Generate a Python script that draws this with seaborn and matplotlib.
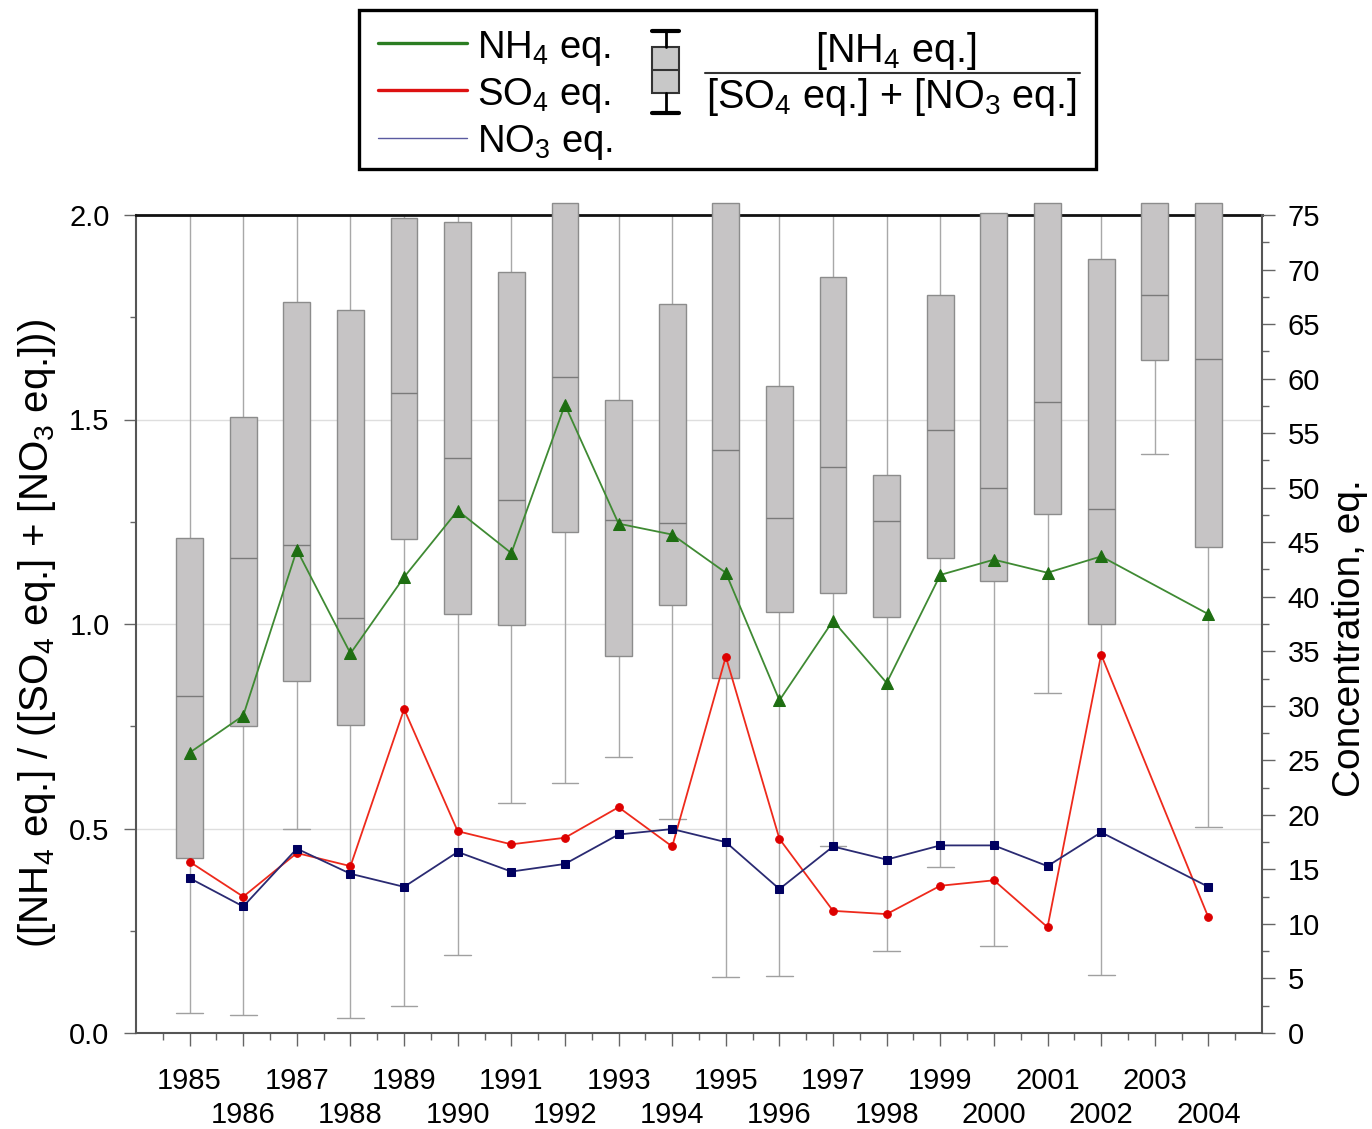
import numpy as np
import pandas as pd
import matplotlib
matplotlib.use("Agg")
import matplotlib.pyplot as plt
import seaborn as sns
from matplotlib.lines import Line2D
from matplotlib.patches import Rectangle
from matplotlib.ticker import MultipleLocator, FormatStrFormatter

# ---------------- data ----------------
years = list(range(1985, 2005))
# ratio [NH4]/([SO4]+[NO3]) box statistics (left axis)
box_low = [0.048, 0.045, 0.500, 0.037, 0.066, 0.190, 0.562, 0.611, 0.674, 0.523,
           0.138, 0.140, 0.456, 0.200, 0.407, 0.213, 0.832, 0.143, 1.416, 0.503]
box_q1 = [0.427, 0.751, 0.860, 0.754, 1.209, 1.025, 0.997, 1.225, 0.922, 1.046,
          0.867, 1.029, 1.075, 1.016, 1.162, 1.104, 1.269, 0.999, 1.645, 1.189]
box_med = [0.823, 1.161, 1.194, 1.015, 1.566, 1.406, 1.302, 1.605, 1.254, 1.246,
           1.425, 1.258, 1.383, 1.251, 1.474, 1.332, 1.544, 1.280, 1.804, 1.647]
box_q3 = [1.210, 1.505, 1.788, 1.768, 1.992, 1.982, 1.861, 2.030, 1.548, 1.782,
          2.030, 1.582, 1.848, 1.364, 1.804, 2.006, 2.030, 1.892, 2.030, 2.030]
box_high = [2.0, 2.0, 2.0, 2.0, 2.0, 2.0, 2.0, 2.030, 2.0, 2.0,
            2.030, 2.0, 2.0, 2.0, 2.0, 2.006, 2.030, 2.0, 2.030, 2.030]

# concentrations (right axis), no 2003 values
line_years = [1985, 1986, 1987, 1988, 1989, 1990, 1991, 1992, 1993, 1994,
              1995, 1996, 1997, 1998, 1999, 2000, 2001, 2002, 2004]
nh4 = [25.7, 29.1, 44.3, 34.8, 41.8, 47.9, 44.0, 57.6, 46.7, 45.7,
       42.2, 30.5, 37.8, 32.1, 42.0, 43.4, 42.2, 43.7, 38.4]
so4 = [15.7, 12.5, 16.5, 15.3, 29.7, 18.5, 17.3, 17.9, 20.7, 17.1,
       34.5, 17.8, 11.2, 10.9, 13.5, 14.0, 9.7, 34.7, 10.6]
no3 = [14.2, 11.6, 16.9, 14.6, 13.4, 16.6, 14.8, 15.5, 18.2, 18.7,
       17.5, 13.2, 17.1, 15.9, 17.2, 17.2, 15.3, 18.4, 13.4]

# ---------------- style ----------------
W, H = 1372, 1129
sns.set_style("white")
plt.rcParams["font.family"] = ["Liberation Sans", "DejaVu Sans"]
plt.rcParams["mathtext.default"] = "regular"
plt.rcParams["text.color"] = "black"
plt.rcParams["axes.labelcolor"] = "black"
plt.rcParams["xtick.labelcolor"] = "black"
plt.rcParams["ytick.labelcolor"] = "black"

fig = plt.figure(figsize=(W / 100, H / 100), dpi=100)
ax = fig.add_axes([136 / W, 1 - 1033 / H, (1262 - 136) / W, (1033 - 215) / H])

rows = []
for i, y in enumerate(years):
    for v in (box_low[i], box_q1[i], box_med[i], box_q3[i], box_high[i]):
        rows.append((y, v))
df_box = pd.DataFrame(rows, columns=["year", "ratio"])

sns.boxplot(data=df_box, x="year", y="ratio", native_scale=True, orient="x",
            width=0.5, whis=(0, 100), fliersize=0, saturation=1,
            color="#c6c4c5", linecolor="#8c8c8c", linewidth=1.0, ax=ax,
            capwidths=0.5,
            boxprops=dict(facecolor="#c6c4c5", edgecolor="#8c8c8c", linewidth=1.0, zorder=3),
            whiskerprops=dict(color="#a8a8a8", linewidth=1.0, zorder=2),
            capprops=dict(color="#a0a0a0", linewidth=1.0, zorder=2),
            medianprops=dict(color="#7a7a7a", linewidth=1.0, zorder=3.2))
for p in ax.patches:
    p.set_clip_on(False)

ax.set_xlim(1984, 2005)
ax.set_ylim(0, 2.0)
ax.set_axisbelow(True)
ax.yaxis.set_major_locator(MultipleLocator(0.5))
ax.yaxis.set_minor_locator(MultipleLocator(0.25))
ax.yaxis.set_major_formatter(FormatStrFormatter("%.1f"))
ax.grid(axis="y", which="major", color="#dedede", linewidth=1.0)
ax.grid(axis="x", visible=False)
ax.set_xticks(years)
ax.set_xticks([y + 0.5 for y in range(1984, 2005)], minor=True)
ax.set_xticklabels([str(y) for y in years])
ax.set_xlabel("")
ax.set_ylabel("")
ax.tick_params(axis="y", which="major", direction="out", length=9, width=1,
               color="#666666", labelcolor="black", labelsize=21, pad=10, left=True)
ax.tick_params(axis="y", which="minor", direction="out", length=4, width=1,
               color="#666666", left=True)
ax.tick_params(axis="x", which="major", direction="out", length=9.5, width=1,
               color="#666666", labelcolor="black", labelsize=21, pad=15, bottom=True)
ax.tick_params(axis="x", which="minor", direction="out", length=5, width=1,
               color="#666666", bottom=True)
for s in ("left", "bottom"):
    ax.spines[s].set_color("#555555")
    ax.spines[s].set_linewidth(1.5)
ax.spines["top"].set_color("#111111")
ax.spines["top"].set_linewidth(2.0)
ax.spines["right"].set_visible(False)

# stagger the year labels: even years on a second row
for tick, y in zip(ax.xaxis.get_major_ticks(), years):
    if y % 2 == 0:
        tick.set_pad(39.5)

# ---------------- lines on right axis ----------------
ax2 = ax.twinx()
df_lines = pd.DataFrame({"year": line_years, "NH4": nh4, "SO4": so4, "NO3": no3})
sns.lineplot(data=df_lines, x="year", y="NH4", ax=ax2, color="#3f8a33", linewidth=1.3,
             marker="^", markersize=8.5, markerfacecolor="#1e6e12", markeredgecolor="#1e6e12")
sns.lineplot(data=df_lines, x="year", y="SO4", ax=ax2, color="#ee2a1c", linewidth=1.3,
             marker="o", markersize=5.5, markerfacecolor="#dd0000", markeredgecolor="#dd0000")
sns.lineplot(data=df_lines, x="year", y="NO3", ax=ax2, color="#2a2a72", linewidth=1.3,
             marker="s", markersize=6, markerfacecolor="#000060", markeredgecolor="#000060")
ax2.set_ylim(0, 75)
ax2.set_xlim(1984, 2005)
ax2.set_xlabel("")
ax2.set_ylabel("")
ax2.yaxis.set_major_locator(MultipleLocator(5))
ax2.yaxis.set_minor_locator(MultipleLocator(2.5))
ax2.tick_params(axis="y", which="major", direction="out", length=9.5, width=1,
                color="#666666", labelcolor="black", labelsize=21, pad=9, right=True)
ax2.tick_params(axis="y", which="minor", direction="out", length=5, width=1,
                color="#666666", right=True)
ax2.grid(False)
for s in ("left", "bottom", "top"):
    ax2.spines[s].set_visible(False)
ax2.spines["right"].set_color("#555555")
ax2.spines["right"].set_linewidth(1.5)

# ---------------- axis titles ----------------
fig.text(37 / W, 1 - 633 / H, "([NH$_4$ eq.] / ([SO$_4$ eq.] + [NO$_3$ eq.]))",
         rotation=90, ha="center", va="center", fontsize=29, color="black")
fig.text(1350 / W, 1 - 638 / H, "Concentration, eq.",
         rotation=90, ha="center", va="center", fontsize=28, color="black")

# ---------------- legend (pixel overlay) ----------------
lax = fig.add_axes([0, 0, 1, 1], facecolor="none")
lax.set_xlim(0, W)
lax.set_ylim(H, 0)
lax.axis("off")
lax.add_patch(Rectangle((359, 10), 737, 159, fill=False, edgecolor="black", linewidth=2.4))
lax.add_line(Line2D([378, 467], [43, 43], color="#2b7d22", linewidth=2.4))
lax.add_line(Line2D([378, 467], [90, 90], color="#dd1111", linewidth=2.4))
lax.add_line(Line2D([378, 467], [138, 138], color="#5a5aa0", linewidth=1.0))
lax.text(477, 58, "NH$_4$ eq.", fontsize=27.5, va="baseline", ha="left", color="black")
lax.text(477, 105, "SO$_4$ eq.", fontsize=27.5, va="baseline", ha="left", color="black")
lax.text(477, 152, "NO$_3$ eq.", fontsize=27.5, va="baseline", ha="left", color="black")
# box symbol
lax.add_line(Line2D([665.5, 665.5], [31, 47], color="black", linewidth=2))
lax.add_line(Line2D([665.5, 665.5], [93, 113], color="black", linewidth=2))
lax.add_line(Line2D([652, 679], [31, 31], color="black", linewidth=3))
lax.add_line(Line2D([652, 679], [113, 113], color="black", linewidth=3))
lax.add_patch(Rectangle((652, 47), 27, 46, facecolor="#c8c8c8", edgecolor="#333333", linewidth=1.5))
lax.add_line(Line2D([652, 679], [70, 70], color="#333333", linewidth=1.5))
# fraction
lax.text(896, 62, "[NH$_4$ eq.]", fontsize=28.5, va="baseline", ha="center", color="black")
lax.add_line(Line2D([705, 1080], [73, 73], color="#333333", linewidth=1.5))
lax.text(892, 108, "[SO$_4$ eq.] + [NO$_3$ eq.]", fontsize=28.5, va="baseline", ha="center", color="black")

fig.savefig("out.png", dpi=100)
